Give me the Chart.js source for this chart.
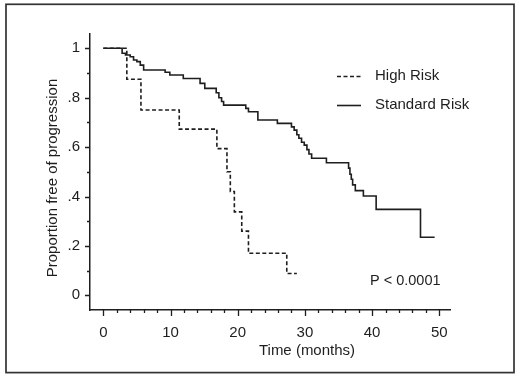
<!DOCTYPE html>
<html>
<head>
<meta charset="utf-8">
<script src="https://cdn.jsdelivr.net/npm/chart.js@4"></script>
<style>
  html, body { margin: 0; padding: 0; background: #fff; }
  canvas { display: block; }
</style>
</head>
<body>
<canvas id="km" width="520" height="377"></canvas>
<script>
// Kaplan-Meier curves, values
const seriesNames = ['High Risk', 'Standard Risk'];

// time (months) of each step, and the proportion left after it
const highRiskTime = [0, 3.5, 5.6, 11.3, 16.9, 18.4, 18.9, 19.5, 20.6, 21.6, 27.3, 28.8];
const highRiskProp = [1, 0.875, 0.75, 0.673, 0.594, 0.50, 0.42, 0.338, 0.26, 0.17, 0.088, 0.088];

const standardTime = [0, 2.8, 3.3, 4.0, 4.5, 5.0, 5.5, 6.0, 9.2, 9.9, 11.9, 14.4, 15.1,
  16.8, 17.2, 17.6, 17.9, 21.2, 21.6, 23.0, 25.9, 28.0, 28.4, 28.8, 29.1, 29.5, 29.9,
  30.3, 30.6, 31.0, 33.2, 36.5, 36.7, 36.9, 37.1, 37.5, 38.7, 40.6, 47.2, 49.3];
const standardProp = [1, 0.98, 0.973, 0.966, 0.953, 0.946, 0.932, 0.912, 0.903, 0.892, 0.878, 0.858, 0.838,
  0.82, 0.80, 0.785, 0.770, 0.757, 0.743, 0.710, 0.696, 0.682, 0.669, 0.65, 0.636, 0.62, 0.608,
  0.59, 0.572, 0.555, 0.537, 0.515, 0.49, 0.47, 0.447, 0.424, 0.402, 0.348, 0.235, 0.235];

// axes
const xTickValues = [0, 10, 20, 30, 40, 50];
const yTickValues = [0, 0.2, 0.4, 0.6, 0.8, 1];
const yTickLabels = ['0', '.2', '.4', '.6', '.8', '1'];
const xMinorStep = 2;
const yMinorStep = 0.1;
const xTitle = 'Time (months)';
const yTitle = 'Proportion free of progression';
const pValueText = 'P < 0.0001';

const ink = '#1e1e1e';
const family = '"Liberation Sans", Arial, sans-serif';

const toPoints = (ts, ps) => ts.map((t, i) => ({ x: t, y: ps[i] }));

// tick marks, axis titles, legend, p value and the frame
const decor = {
  id: 'decor',
  afterDraw(chart) {
    const { ctx, scales: { x, y } } = chart;
    ctx.save();
    ctx.strokeStyle = ink;
    ctx.lineWidth = 1.3;
    ctx.beginPath();
    const nx = Math.round(xTickValues[xTickValues.length - 1] / xMinorStep);
    for (let i = 0; i <= nx; i++) {
      const v = i * xMinorStep;
      const px = Math.round(x.getPixelForValue(v)) + 0.5;
      const len = v % 10 === 0 ? 6 : 3;
      ctx.moveTo(px, x.top);
      ctx.lineTo(px, x.top + len);
    }
    const ny = Math.round(1 / yMinorStep);
    for (let i = 0; i <= ny; i++) {
      const py = Math.round(y.getPixelForValue(i * yMinorStep)) + 0.5;
      const len = i % 2 === 0 ? 5 : 3;
      ctx.moveTo(y.right, py);
      ctx.lineTo(y.right - len, py);
    }
    ctx.stroke();

    ctx.fillStyle = ink;
    ctx.textBaseline = 'middle';
    ctx.font = '15px ' + family;
    ctx.textAlign = 'center';
    ctx.fillText(xTitle, 307, 351);
    ctx.save();
    ctx.translate(53, 178);
    ctx.rotate(-Math.PI / 2);
    ctx.fillText(yTitle, 0, 0);
    ctx.restore();

    // legend
    const rows = [76, 105];
    chart.data.datasets.forEach((ds, i) => {
      ctx.save();
      ctx.lineWidth = ds.borderWidth;
      ctx.setLineDash(ds.borderDash || []);
      ctx.beginPath();
      ctx.moveTo(337, rows[i] + 0.5);
      ctx.lineTo(361, rows[i] + 0.5);
      ctx.stroke();
      ctx.restore();
      ctx.textAlign = 'left';
      ctx.fillText(ds.label, 375, rows[i]);
    });

    ctx.font = '14.5px ' + family;
    ctx.textAlign = 'left';
    ctx.fillText(pValueText, 370, 281);

    ctx.lineWidth = 1.7;
    ctx.strokeStyle = '#333';
    ctx.strokeRect(6, 4.3, 508, 368.3);
    ctx.restore();
  }
};

new Chart(document.getElementById('km'), {
  type: 'line',
  data: {
    datasets: [
      {
        label: seriesNames[0],
        data: toPoints(highRiskTime, highRiskProp),
        stepped: 'before',
        borderColor: ink,
        borderWidth: 1.6,
        borderDash: [4, 2.5],
        pointRadius: 0,
        fill: false
      },
      {
        label: seriesNames[1],
        data: toPoints(standardTime, standardProp),
        stepped: 'before',
        borderColor: ink,
        borderWidth: 1.6,
        pointRadius: 0,
        fill: false
      }
    ]
  },
  options: {
    responsive: false,
    animation: false,
    devicePixelRatio: 1,
    layout: { padding: { left: 0, right: 70, top: 34, bottom: 0 } },
    plugins: { legend: { display: false }, tooltip: { enabled: false } },
    scales: {
      x: {
        type: 'linear',
        min: -1.98,
        max: 51.59,
        grid: { display: false },
        border: { display: true, color: ink, width: 1.5 },
        afterBuildTicks: s => { s.ticks = xTickValues.map(v => ({ value: v })); },
        afterFit: s => { s.height = 67; },
        ticks: { autoSkip: false, maxRotation: 0, padding: 6, color: ink, font: { family, size: 15 } }
      },
      y: {
        type: 'linear',
        min: -0.0595,
        max: 1.058,
        grid: { display: false },
        border: { display: true, color: ink, width: 1.5 },
        afterBuildTicks: s => { s.ticks = yTickValues.map(v => ({ value: v })); },
        afterFit: s => { s.width = 90; },
        ticks: {
          autoSkip: false,
          padding: 2,
          color: ink,
          font: { family, size: 15 },
          callback: (v, i) => yTickLabels[i]
        }
      }
    }
  },
  plugins: [decor]
});
</script>
</body>
</html>
